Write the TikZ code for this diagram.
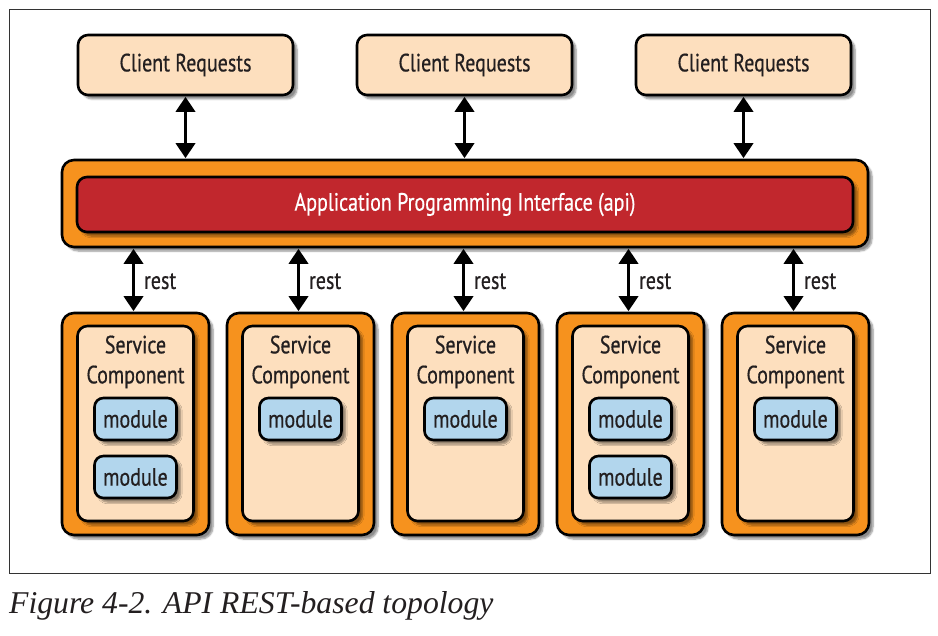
\documentclass[tikz,border=0pt]{standalone}
\usepackage{fontspec}
\usetikzlibrary{arrows.meta,shadows.blur}
\newfontfamily\diafont[FakeStretch=0.8,FakeBold=0.6]{PT Sans}
\newfontfamily\capfont{Liberation Serif}
\definecolor{peach}{RGB}{253,223,190}
\definecolor{orng}{RGB}{246,146,30}
\definecolor{apired}{RGB}{193,39,45}
\definecolor{modblue}{RGB}{178,214,237}
\definecolor{ink}{RGB}{35,31,32}
\tikzset{
  shad/.style={blur shadow={shadow xshift=4pt,shadow yshift=-4pt,shadow blur steps=6,shadow opacity=45}},
  dfont/.style={font=\diafont\fontsize{25}{29}\selectfont},
  client/.style={draw=black,line width=2.6pt,rounded corners=10pt,fill=peach,minimum width=215pt,minimum height=60pt,shad,dfont,text=ink},
  outerbox/.style={draw=black,line width=2.6pt,rounded corners=12pt,fill=orng,shad},
  innerbox/.style={draw=black,line width=2.6pt,rounded corners=10pt,shad},
  modbox/.style={draw=black,line width=2.6pt,rounded corners=9pt,fill=modblue,minimum width=82pt,minimum height=42pt,shad,dfont,text=ink},
  svctext/.style={font=\diafont\fontsize{25}{30}\selectfont,text=ink,align=center},
  restlbl/.style={dfont,text=ink,anchor=west},
  biarrow/.style={line width=3.5pt,{Triangle[width=19pt,length=15pt]}-{Triangle[width=19pt,length=15pt]},shorten <=0.5pt,shorten >=0.5pt}
}
\begin{document}
\begin{tikzpicture}[x=1pt,y=-1pt]
\useasboundingbox (0,0) rectangle (938,636);
\draw[line width=0.8pt,black!80] (9,9) rectangle (930,573);
% clients
\node[client] (c1) at (185.5,65) {Client Requests};
\node[client] (c2) at (464.5,65) {Client Requests};
\node[client] (c3) at (743.5,65) {Client Requests};
% api
\node[outerbox,minimum width=806pt,minimum height=87pt] (apio) at (465,203.5) {};
\node[innerbox,fill=apired,minimum width=776pt,minimum height=55pt,dfont,text=white] (api) at (465,204.5) {Application Programming Interface (api)};
% services
\foreach \i/\x in {1/135.5,2/300.5,3/465.5,4/630.5,5/795.5}{
  \node[outerbox,minimum width=147pt,minimum height=222pt] (so\i) at (\x,424) {};
  \node[innerbox,fill=peach,minimum width=116pt,minimum height=195pt] (si\i) at (\x,423.5) {};
  \node[svctext,anchor=north] (st\i) at (\x,332) {Service\\Component};
  \node[modbox] (m\i a) at (\x,419) {module};
}
\node[modbox] (m1b) at (135.5,477) {module};
\node[modbox] (m4b) at (630.5,477) {module};
% arrows
\foreach \i in {1,2,3}{
  \draw[biarrow] (c\i.south) -- (c\i.south |- apio.north);
}
\foreach \i in {1,...,5}{
  \draw[biarrow] ([xshift=-2pt]so\i.north |- apio.south) coordinate (rt\i) -- ([xshift=-2pt]so\i.north);
  \node[restlbl] (rl\i) at ([xshift=7pt,yshift=-33pt]rt\i) {rest};
}
\node[font=\capfont\itshape\fontsize{31.7}{34}\selectfont,text=ink,anchor=base west,inner sep=0pt] (cap) at (9,613) {Figure 4-2. API REST-based topology};
\end{tikzpicture}
\end{document}
